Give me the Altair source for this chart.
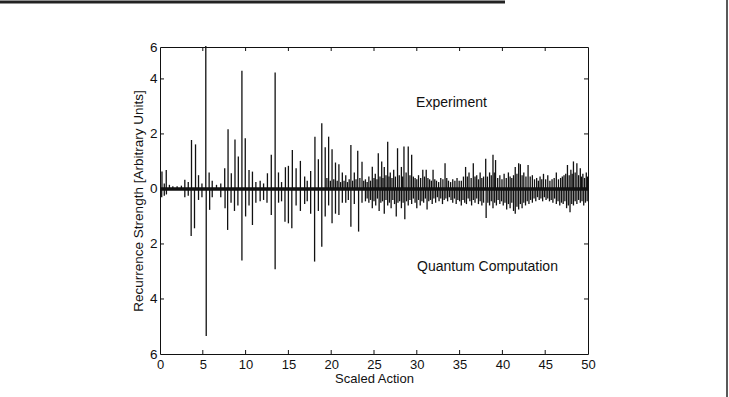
import altair as alt
import pandas as pd

# ---- Experiment (positive sticks) : scaled action, strength ----
exp_x = [0.23, 0.5, 0.73, 1.1, 1.5, 2.0, 2.5, 2.9, 3.3, 3.68, 4.15, 4.5, 4.9, 5.35, 5.74, 6.1, 6.6, 7.1,
         7.56, 7.95, 8.33, 8.76, 9.15, 9.57, 9.96, 10.4, 10.8, 11.2, 11.7, 12.1, 12.55, 13.0, 13.45, 13.84,
         14.2, 14.65, 15.0, 15.46, 15.9, 16.4, 16.9, 17.2, 17.6, 18.1, 18.5, 18.9,
         19.3, 19.5, 19.7, 19.9, 20.1, 20.3, 20.5, 20.7, 20.9, 21.1, 21.3, 21.5, 21.7, 21.9, 22.1, 22.3,
         22.5, 22.7, 22.9, 23.1, 23.35, 23.6, 23.8, 24.0, 24.2, 24.4, 24.6, 24.8, 25.0, 25.15, 25.35, 25.5,
         25.7, 25.9, 26.05, 26.2, 26.4, 26.6, 26.75, 26.9, 27.1, 27.3, 27.5, 27.75, 27.95, 28.2, 28.35, 28.5,
         28.75, 29.0, 29.2, 29.4, 29.6, 29.8, 30.0, 30.2, 30.45, 30.7, 30.9, 31.1, 31.3, 31.5, 31.7, 31.9,
         32.1, 32.3, 32.55, 32.8, 33.05, 33.3, 33.5, 33.7, 33.95, 34.2, 34.45, 34.7, 34.95, 35.2, 35.45, 35.7,
         35.9, 36.1, 36.35, 36.6, 36.8, 37.0, 37.2, 37.4, 37.6, 37.8, 38.05, 38.25, 38.5, 38.7, 38.9, 39.05,
         39.2, 39.45, 39.7, 39.95, 40.2, 40.45, 40.7, 40.9, 41.1, 41.3, 41.5, 41.7, 41.9, 42.1, 42.3, 42.5,
         42.75, 43.0, 43.25, 43.5, 43.75, 44.0, 44.2, 44.4, 44.6, 44.8, 45.05, 45.3, 45.55, 45.8, 46.05, 46.3,
         46.55, 46.8, 47.0, 47.2, 47.4, 47.6, 47.8, 48.0, 48.15, 48.3, 48.5, 48.7, 48.9, 49.1, 49.25, 49.4,
         49.6, 49.8, 49.95]
exp_y = [0.63, 0.2, 0.69, 0.15, 0.1, 0.1, 0.12, 0.33, 0.25, 1.78, 1.62, 0.5, 0.2, 5.2, 0.6, 0.3, 0.15, 0.2,
         0.75, 2.17, 0.57, 1.8, 1.18, 4.3, 1.84, 0.69, 0.63, 0.25, 0.3, 0.2, 0.57, 1.24, 4.23, 0.6,
         0.25, 0.79, 0.84, 1.42, 0.75, 1.02, 0.45, 0.3, 0.65, 1.9, 1.08, 2.39,
         1.52, 0.4, 1.9, 0.3, 1.44, 0.35, 0.96, 0.3, 0.9, 0.25, 0.6, 0.3, 0.5, 0.25, 0.35, 1.6,
         0.3, 0.6, 0.35, 1.39, 0.4, 0.99, 0.3, 0.35, 0.25, 0.45, 0.3, 0.81, 0.4, 0.55, 0.35, 1.3,
         0.45, 1.0, 0.4, 0.8, 0.5, 1.72, 0.45, 0.6, 0.4, 0.7, 0.45, 1.48, 0.5, 0.8, 0.45, 1.54,
         0.6, 1.54, 0.5, 1.24, 0.45, 0.4, 0.35, 0.5, 0.4, 0.7, 0.45, 0.7, 0.4, 0.35, 0.3, 0.7,
         0.35, 0.3, 0.25, 0.4, 0.35, 0.93, 0.4, 0.3, 0.25, 0.35, 0.3, 0.4, 0.3, 0.3, 0.45, 0.8,
         0.45, 0.6, 0.4, 0.93, 0.45, 0.5, 0.35, 0.6, 0.4, 0.45, 1.1, 0.45, 0.6, 0.5, 1.24, 0.6,
         1.05, 0.4, 0.5, 0.35, 0.55, 0.4, 0.6, 0.45, 0.4, 0.5, 0.8, 0.55, 0.93, 0.9, 0.5, 0.6,
         0.45, 0.87, 0.45, 0.5, 0.35, 0.4, 0.3, 0.45, 0.35, 0.55, 0.35, 0.5, 0.3, 0.35, 0.4, 0.6,
         0.35, 0.4, 0.45, 0.5, 0.55, 0.87, 0.5, 0.7, 0.55, 1.0, 0.6, 0.93, 0.5, 0.75, 0.45, 0.55,
         0.4, 0.6, 0.45]

# ---- Quantum computation (negative sticks) ----
qc_x = [0.2, 0.5, 0.75, 2.9, 3.3, 3.64, 4.03, 4.5, 4.9, 5.4, 5.8, 6.1, 7.1, 7.6, 7.9, 8.3, 8.7, 9.1,
        9.57, 10.0, 10.4, 10.8, 11.2, 11.7, 12.1, 12.5, 13.0, 13.45, 13.85, 14.2, 14.6, 15.0, 15.4, 15.9,
        16.4, 16.9, 17.2, 17.6, 18.06, 18.5, 18.9, 19.3, 19.7, 20.1, 20.5, 20.9, 21.3, 21.7, 22.0, 22.3,
        22.7, 23.2, 23.6, 24.0,
        24.2, 24.4, 24.6, 24.8, 25.0, 25.2, 25.4, 25.6, 25.8, 26.0, 26.2, 26.4, 26.6, 26.8, 27.0, 27.2,
        27.4, 27.6, 27.8, 28.0, 28.2, 28.4, 28.6, 28.8, 29.0, 29.2, 29.4, 29.6, 29.8, 30.0, 30.2, 30.4,
        30.6, 30.8, 31.0, 31.2, 31.4, 31.6, 31.8, 32.0, 32.2, 32.4, 32.6, 32.8, 33.0, 33.2, 33.4, 33.6,
        33.8, 34.0, 34.2, 34.4, 34.6, 34.8, 35.0, 35.2, 35.4, 35.6, 35.8, 36.0, 36.2, 36.4, 36.6, 36.8,
        37.0, 37.2, 37.4, 37.6, 37.8, 38.1, 38.3, 38.5, 38.7, 38.9, 39.1, 39.3, 39.5, 39.7, 39.9, 40.1,
        40.3, 40.5, 40.7, 40.9, 41.1, 41.3, 41.5, 41.7, 41.9, 42.1, 42.3, 42.5, 42.7, 42.9, 43.1, 43.3,
        43.5, 43.7, 43.9, 44.1, 44.3, 44.5, 44.7, 44.9, 45.1, 45.3, 45.5, 45.7, 45.9, 46.1, 46.3, 46.5,
        46.7, 46.9, 47.1, 47.3, 47.5, 47.7, 47.9, 48.1, 48.3, 48.5, 48.7, 48.9, 49.1, 49.3, 49.5, 49.7,
        49.9]
qc_y = [-0.3, -0.25, -0.2, -0.3, -0.25, -1.71, -1.43, -0.4, -0.3, -5.35, -0.76, -0.3, -0.3, -0.7, -1.49, -0.5, -0.8, -0.6,
        -2.6, -1.0, -0.6, -1.31, -0.5, -0.45, -0.4, -0.5, -0.95, -2.92, -0.5, -0.45, -1.19, -1.25, -1.43, -0.6,
        -0.8, -0.55, -0.45, -0.9, -2.64, -0.8, -2.1, -1.0, -0.6, -1.25, -0.9, -0.95, -0.5, -0.5, -0.4, -1.37,
        -0.55, -1.55, -0.5, -0.45,
        -0.35, -0.5, -0.4, -0.7, -0.45, -0.6, -0.35, -0.8, -0.5, -0.45, -0.9, -0.4, -0.6, -0.5, -0.7, -0.4,
        -0.55, -1.0, -0.5, -0.45, -0.7, -0.5, -1.1, -0.45, -0.6, -0.4, -0.55, -0.35, -0.5, -0.7, -0.4, -0.6,
        -0.45, -0.5, -0.35, -0.75, -0.45, -0.4, -0.55, -0.35, -0.5, -0.3, -0.45, -0.35, -0.55, -0.4, -0.35, -0.45,
        -0.3, -0.4, -0.5, -0.35, -0.55, -0.4, -0.45, -0.6, -0.4, -0.5, -0.55, -0.35, -0.45, -0.6, -0.4, -0.5,
        -0.35, -0.55, -0.45, -0.6, -0.5, -1.06, -0.5, -0.6, -0.45, -0.7, -0.5, -0.6, -0.4, -0.55, -0.45, -0.6,
        -0.5, -0.75, -0.55, -0.7, -0.5, -0.8, -0.9, -0.65, -0.75, -0.55, -0.7, -0.5, -0.6, -0.45, -0.55, -0.4,
        -0.5, -0.35, -0.45, -0.3, -0.4, -0.35, -0.45, -0.3, -0.4, -0.35, -0.45, -0.4, -0.5, -0.35, -0.55, -0.45,
        -0.6, -0.5, -0.55, -0.45, -0.7, -0.6, -0.85, -0.55, -0.6, -0.45, -0.55, -0.4, -0.5, -0.45, -0.6, -0.5,
        -0.45]

x_ticks = [0, 5, 10, 15, 20, 25, 30, 35, 40, 45, 50]
x_inner_ticks = [5, 10, 15, 20, 25, 30, 35, 40, 45]
y_top = 5.16
y_ticks = [-6, -4, -2, 0, 2, 4, y_top]
y_inner_ticks = [-4, -2, 0, 2, 4]

note_text = ["Experiment", "Quantum Computation"]
note_x = [34.05, 38.26]
note_y = [3.13, -2.84]

W, H = 428, 307
INK = "#111111"
FONT = "Liberation Sans"

df_sticks = pd.DataFrame({
    "x": exp_x + qc_x,
    "y": exp_y + qc_y,
    "base": [0.0] * (len(exp_x) + len(qc_x)),
})
df_xt = pd.DataFrame({"x": x_inner_ticks})
df_yt = pd.DataFrame({"y": y_inner_ticks})
df_notes = pd.DataFrame({"x": note_x, "y": note_y, "t": note_text})
df_base = pd.DataFrame({"x": [0, 50], "y": [0, 0]})
df_one = pd.DataFrame({"k": [0]})

xs = alt.Scale(domain=[0, 50], nice=False, zero=False)
ys = alt.Scale(domain=[-6, y_top], nice=False, zero=False)

x_axis = alt.Axis(values=x_ticks, title="Scaled Action", grid=False, domain=False, ticks=False,
                  labelPadding=4, titlePadding=1, labelFontSize=13, titleFontSize=13,
                  labelFont=FONT, titleFont=FONT, titleFontWeight="normal",
                  labelColor=INK, titleColor=INK, labelFlush=False)
y_axis = alt.Axis(values=y_ticks, title="Recurrence Strength [Arbitrary Units]", grid=False,
                  domain=False, ticks=False, labelPadding=3, titlePadding=4,
                  labelExpr="datum.value > 5 ? '6' : format(abs(datum.value), 'd')",
                  labelFontSize=13.5, titleFontSize=13.5, labelFont=FONT, titleFont=FONT,
                  titleFontWeight="normal", labelColor=INK, titleColor=INK, labelFlush=False)

sticks = alt.Chart(df_sticks).mark_rule(color=INK, strokeWidth=1.3).encode(
    x=alt.X("x:Q", scale=xs, axis=x_axis),
    y=alt.Y("y:Q", scale=ys, axis=y_axis),
    y2="base:Q",
)

baseline = alt.Chart(df_base).mark_line(color=INK, strokeWidth=3.5).encode(
    x=alt.X("x:Q", scale=xs), y=alt.Y("y:Q", scale=ys)
)

tick_bottom = alt.Chart(df_xt).mark_rule(color=INK, strokeWidth=1).encode(
    x=alt.X("x:Q", scale=xs), y=alt.value(H), y2=alt.value(H - 4))
tick_top = alt.Chart(df_xt).mark_rule(color=INK, strokeWidth=1).encode(
    x=alt.X("x:Q", scale=xs), y=alt.value(0), y2=alt.value(4))
tick_left = alt.Chart(df_yt).mark_rule(color=INK, strokeWidth=1).encode(
    y=alt.Y("y:Q", scale=ys), x=alt.value(0), x2=alt.value(4))
tick_right = alt.Chart(df_yt).mark_rule(color=INK, strokeWidth=1).encode(
    y=alt.Y("y:Q", scale=ys), x=alt.value(W), x2=alt.value(W - 4))

notes = alt.Chart(df_notes).mark_text(font=FONT, fontSize=14, color=INK, align="center",
                                      baseline="middle").encode(
    x=alt.X("x:Q", scale=xs), y=alt.Y("y:Q", scale=ys), text="t:N")

# page frame lines of the scanned figure
frame_top = alt.Chart(df_one).mark_rule(color="#222222", strokeWidth=3).encode(
    x=alt.value(-160), x2=alt.value(345), y=alt.value(-45))
frame_right = alt.Chart(df_one).mark_rule(color="#222222", strokeWidth=1.5).encode(
    x=alt.value(567), y=alt.value(-47), y2=alt.value(350))

chart = alt.layer(
    sticks, baseline, tick_bottom, tick_top, tick_left, tick_right, notes, frame_top, frame_right
).properties(
    width=W, height=H,
    padding={"left": 160, "top": 47, "right": 141, "bottom": 43},
    autosize=alt.AutoSizeParams(type="none"),
    background="white",
).configure_view(stroke=INK, strokeWidth=1)

chart.save("out.html", embed_options={"renderer": "svg", "actions": False})
